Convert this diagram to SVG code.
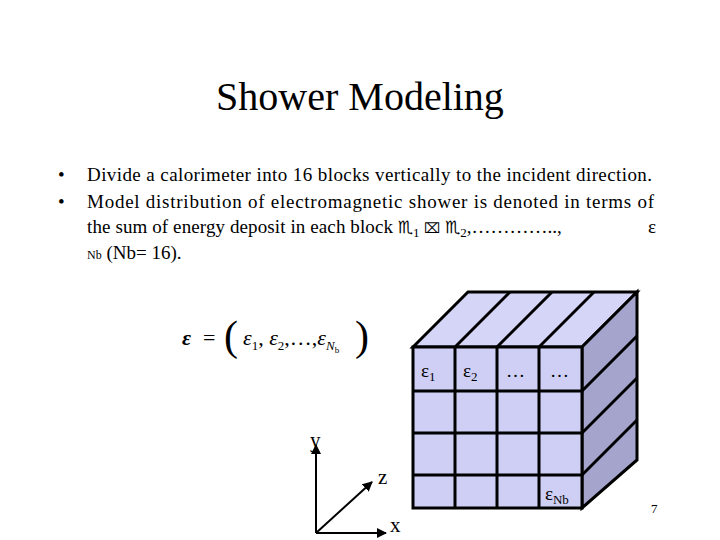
<svg xmlns="http://www.w3.org/2000/svg" width="720" height="540" viewBox="0 0 720 540">
<style>
text{font-family:'Liberation Serif','DejaVu Serif',serif;fill:#000}
.c{stroke:#000;stroke-width:3;stroke-linejoin:miter}
.ax{stroke:#000;stroke-width:2;fill:none}
</style>
<defs><marker id="ah" viewBox="0 0 10 10" refX="9" refY="5" markerWidth="5" markerHeight="5" orient="auto"><path d="M0,0L10,5L0,10z" fill="#000"/></marker></defs>
<rect width="720" height="540" fill="#fff"/>
<text x="360" y="110" font-size="40" text-anchor="middle">Shower Modeling</text>
<g font-size="19">
<text x="58" y="181">•</text><text x="87" y="181" textLength="565" lengthAdjust="spacing">Divide a calorimeter into 16 blocks vertically to the incident direction.</text>
<text x="58" y="208">•</text><text x="87" y="208" textLength="567" lengthAdjust="spacing">Model distribution of electromagnetic shower is denoted in terms of</text>
<text x="87" y="233"><tspan textLength="306" lengthAdjust="spacing">the sum of energy deposit in each block</tspan> <tspan style="font-family:'DejaVu Sans'" font-size="17">♏</tspan><tspan font-size="13" dy="4">1</tspan><tspan dy="-4" style="font-family:'DejaVu Sans'" font-size="14"> ⌧</tspan>     <tspan style="font-family:'DejaVu Sans'" font-size="17">♏</tspan><tspan font-size="13" dy="4">2</tspan><tspan dy="-4">,…………..,</tspan></text>
<text x="648" y="233">ε</text>
<text x="87" y="259"><tspan font-size="12">Nb</tspan> (Nb= 16).</text>
</g>
<g id="formula">
<text x="182" y="345" font-size="22" font-weight="bold" font-style="italic">ε</text>
<text x="203" y="345" font-size="22">=</text>
<text x="224" y="350" font-size="42">(</text>
<text x="243" y="345" font-size="22" font-style="italic">ε<tspan font-size="13" font-style="normal" dy="5">1</tspan><tspan dy="-5" font-style="normal">,</tspan> ε<tspan font-size="13" font-style="normal" dy="5">2</tspan><tspan dy="-5" font-style="normal">,…,</tspan>ε<tspan font-size="13" dy="5">N</tspan><tspan font-size="9" font-style="normal" dy="3">b</tspan></text>
<text x="355" y="350" font-size="42">)</text>
</g>
<g id="cube">
<polygon class="c" points="413,347 468,292 637,292 582,347" fill="#d5d5f8"/>
<polygon class="c" points="582,347 637,292 637,460 582,508" fill="#a4a4cc"/>
<rect class="c" x="413" y="347" width="169" height="161" fill="#cfcff5"/>
<g class="c" fill="none">
<path d="M455,347V508M497,347V508M539,347V508M413,391H582M413,433H582M413,475H582"/>
<path d="M455,347L510,292M497,347L552,292M539,347L594,292"/>
<path d="M582,391L637,336M582,433L637,378M582,475L637,420"/>
</g>
<g font-size="19">
<text x="421" y="377">ε<tspan font-size="13" dy="4">1</tspan></text>
<text x="463" y="377">ε<tspan font-size="13" dy="4">2</tspan></text>
<text x="506" y="377">…</text>
<text x="550" y="377">…</text>
<text x="545" y="500">ε<tspan font-size="13" dy="4">Nb</tspan></text>
</g>
</g>
<g id="axes">
<path class="ax" d="M316,533V445" marker-end="url(#ah)"/>
<path class="ax" d="M316,533L372,482" marker-end="url(#ah)"/>
<path class="ax" d="M316,533H386" marker-end="url(#ah)"/>
<text x="310" y="447" font-size="21">y</text>
<text x="378" y="484" font-size="21">z</text>
<text x="390" y="532" font-size="21">x</text>
</g>
<text x="651" y="513" font-size="13">7</text>
</svg>
